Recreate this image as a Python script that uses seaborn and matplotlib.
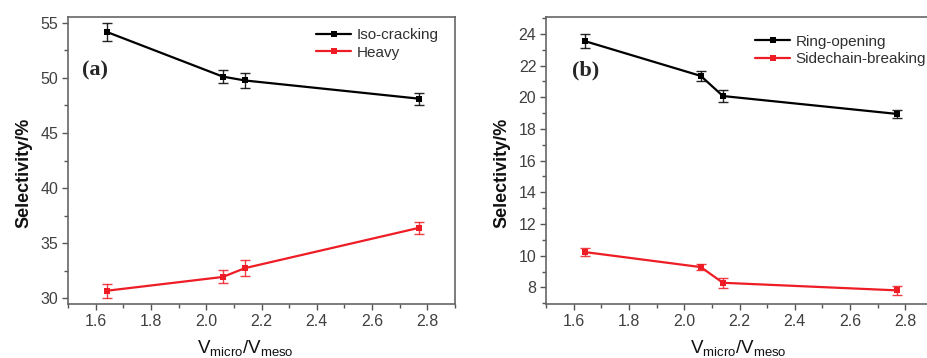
import matplotlib
matplotlib.use("Agg")
import matplotlib.pyplot as plt
import seaborn as sns
import pandas as pd
import numpy as np

# ---- data ----
ratio = [1.64, 2.06, 2.14, 2.77]
iso_cracking = [54.15, 50.1, 49.75, 48.1]
iso_cracking_err = [0.78, 0.58, 0.68, 0.56]
heavy = [30.7, 31.95, 32.75, 36.4]
heavy_err = [0.64, 0.59, 0.71, 0.53]
ring_opening = [23.55, 21.35, 20.08, 18.95]
ring_opening_err = [0.44, 0.34, 0.37, 0.23]
sidechain = [10.23, 9.28, 8.29, 7.81]
sidechain_err = [0.25, 0.19, 0.32, 0.28]

BLACK = "#000000"
RED = "#ee1c24"

sns.set_theme(style="white")
plt.rcParams["font.family"] = ["Liberation Sans", "DejaVu Sans"]
plt.rcParams["mathtext.default"] = "regular"

fig = plt.figure(figsize=(9.27, 3.58), dpi=100)
axA = fig.add_axes([68/927, 54/358, 387/927, 287/358])
axB = fig.add_axes([546/927, 54/358, 387/927, 287/358])


def draw(ax, series, ylim, ymaj, ymin, panel, leg_anchor, xlab_x):
    rows = []
    for name, vals, errs, color in series:
        for x, y in zip(ratio, vals):
            rows.append({"x": x, "y": y, "s": name})
    df = pd.DataFrame(rows)
    palette = {name: color for name, _, _, color in series}
    sns.lineplot(data=df, x="x", y="y", hue="s", palette=palette, ax=ax,
                 marker="s", markersize=4, markeredgewidth=0, linewidth=1.6,
                 sort=False)
    for name, vals, errs, color in series:
        ax.errorbar(ratio, vals, yerr=errs, fmt="none", ecolor=color,
                    elinewidth=1.0, capsize=3.5, capthick=1.0, alpha=0.85)
    ax.set_xlim(1.5, 2.9)
    ax.set_ylim(*ylim)
    ax.xaxis.set_major_locator(matplotlib.ticker.MultipleLocator(0.2))
    ax.xaxis.set_minor_locator(matplotlib.ticker.MultipleLocator(0.1))
    ax.yaxis.set_major_locator(matplotlib.ticker.MultipleLocator(ymaj))
    ax.yaxis.set_minor_locator(matplotlib.ticker.MultipleLocator(ymin))
    ax.xaxis.set_major_formatter(matplotlib.ticker.FormatStrFormatter("%.1f"))
    ax.tick_params(which="major", direction="out", length=4.5, width=1,
                   color="#555555", labelsize=11.5, labelcolor="#404040",
                   bottom=True, left=True, top=False, right=False, pad=2.5)
    ax.tick_params(which="minor", direction="out", length=3, width=1,
                   color="#555555", bottom=True, left=True, top=False, right=False)
    for sp in ax.spines.values():
        sp.set_color("#666666")
        sp.set_linewidth(1.2)
        sp.set_visible(True)
    ax.set_ylabel("Selectivity/%", fontsize=13, fontweight="bold", color="#111111")
    ax.set_xlabel(r"$V_{micro}/V_{meso}$", fontsize=13.5, color="#111111")
    ax.yaxis.set_label_coords(-0.093, 0.456)
    ax.xaxis.set_label_coords(xlab_x, -0.12)
    ax.text(0.036 if panel == "(a)" else 0.067, 0.815, panel,
            transform=ax.transAxes, fontsize=16, fontweight="bold",
            family=["Liberation Serif", "DejaVu Serif"], va="center", ha="left")
    leg = ax.legend(loc="upper left", bbox_to_anchor=leg_anchor, frameon=False,
                    fontsize=11, handlelength=2.3, handletextpad=0.35,
                    labelspacing=0.2, borderpad=0, borderaxespad=0)
    for t in leg.get_texts():
        t.set_color("#303030")


draw(axA, [("Iso-cracking", iso_cracking, iso_cracking_err, BLACK),
           ("Heavy", heavy, heavy_err, RED)],
     (29.5, 55.5), 5, 2.5, "(a)", (0.641, 0.96), 0.457)
draw(axB, [("Ring-opening", ring_opening, ring_opening_err, BLACK),
           ("Sidechain-breaking", sidechain, sidechain_err, RED)],
     (6.95, 25.07), 2, 1, "(b)", (0.54, 0.938), 0.496)

fig.savefig("out.png", dpi=100)
